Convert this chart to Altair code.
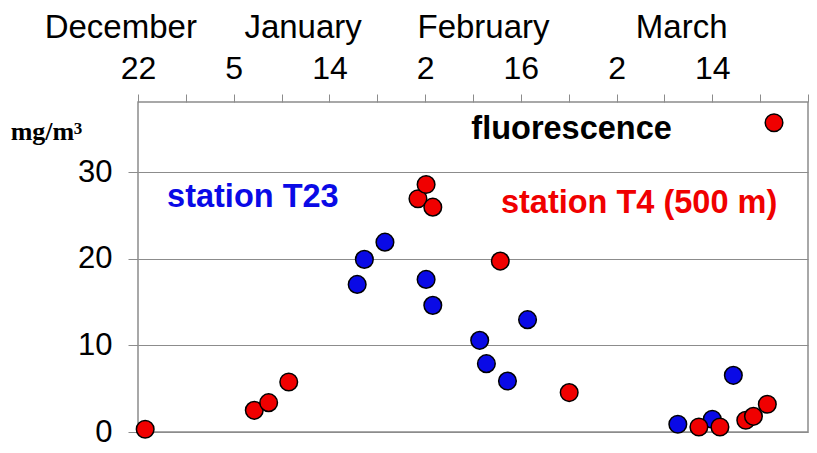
import altair as alt
import pandas as pd

# x positions are in axis-tick units (ticks are evenly spaced, 0..14)
date_labels = ["22", "5", "14", "2", "16", "2", "14"]   # at ticks 0,2,4,...,12
month_names = ["December", "January", "February", "March"]
month_pos = [-0.36, 3.45, 7.22, 11.36]

t23_x = [4.58, 4.73, 5.16, 6.02, 6.16, 7.14, 7.28, 7.72, 8.14, 11.28, 12.0, 12.44]
t23_y = [17.04, 19.93, 21.92, 17.62, 14.62, 10.58, 7.89, 5.88, 12.97, 0.89, 1.47, 6.54]

t4_x = [0.15, 2.43, 2.73, 3.15, 5.85, 6.02, 6.16, 7.57, 9.01, 11.72, 12.16, 12.7, 12.86, 13.15, 13.29]
t4_y = [0.31, 2.5, 3.39, 5.77, 26.93, 28.58, 25.96, 19.73, 4.55, 0.58, 0.58, 1.35, 1.81, 3.2, 35.7]

ann_text = ["fluorescence", "station T23", "station T4 (500 m)"]
ann_x = [9.06, 2.40, 10.47]
ann_y = [33.8, 25.95, 25.26]
ann_color = ["#000000", "#0a0ae6", "#f00000"]

unit_text = ["mg/m", "3"]
unit_x = [-2.66, -1.34]
unit_y = [33.74, 34.45]
unit_size = [26, 17]

BLUE = "#0a0ae6"
RED = "#f00000"
GRAY = "#8c8c8c"
FONT = "Liberation Sans"

label_expr = " : ".join(
    f"datum.value == {2*i} ? '{lab}'" for i, lab in enumerate(date_labels)
) + " : ''"

xscale = alt.Scale(domain=[0, 14], nice=False, zero=False)
yscale = alt.Scale(domain=[0, 38.1], nice=False, zero=False)

xaxis = alt.Axis(orient="top", values=list(range(15)), labelExpr=label_expr,
                 tickSize=8, tickColor=GRAY, tickWidth=1, domain=False, grid=False,
                 labelFont=FONT, labelFontSize=32, labelColor="black",
                 labelBaseline="alphabetic", labelPadding=16, labelFlush=False,
                 labelOverlap=False, title=None)
yaxis = alt.Axis(values=[0, 10, 20, 30], tickSize=10, tickColor=GRAY, tickWidth=1,
                 domain=False, grid=True, gridColor=GRAY, gridWidth=1,
                 labelFont=FONT, labelFontSize=31, labelColor="black",
                 labelPadding=16, title=None)

df23 = pd.DataFrame({"x": t23_x, "y": t23_y})
df4 = pd.DataFrame({"x": t4_x, "y": t4_y})

blue = alt.Chart(df23).mark_point(filled=True, shape="circle", size=310, color=BLUE,
                                   stroke="black", strokeWidth=1.5, opacity=1).encode(
    x=alt.X("x:Q", scale=xscale, axis=xaxis),
    y=alt.Y("y:Q", scale=yscale, axis=yaxis),
)
red = alt.Chart(df4).mark_point(filled=True, shape="circle", size=310, color=RED,
                                 stroke="black", strokeWidth=1.5, opacity=1).encode(
    x=alt.X("x:Q", scale=xscale),
    y=alt.Y("y:Q", scale=yscale),
)

ann = alt.Chart(pd.DataFrame({"x": ann_x, "y": ann_y, "t": ann_text, "c": ann_color})).mark_text(
    font=FONT, fontSize=32.5, fontWeight="bold", align="center", baseline="alphabetic"
).encode(
    x=alt.X("x:Q", scale=xscale),
    y=alt.Y("y:Q", scale=yscale),
    text="t:N",
    color=alt.Color("c:N", scale=None),
)

months = alt.Chart(pd.DataFrame({"x": month_pos, "y": [45.54] * 4, "t": month_names})).mark_text(
    font=FONT, fontSize=33, align="center", baseline="alphabetic", color="black"
).encode(
    x=alt.X("x:Q", scale=xscale),
    y=alt.Y("y:Q", scale=yscale),
    text="t:N",
)

unit = alt.Chart(pd.DataFrame({"x": unit_x, "y": unit_y, "t": unit_text, "s": unit_size})).mark_text(
    font="Liberation Serif", fontWeight="bold", align="left",
    baseline="alphabetic", color="black"
).encode(
    x=alt.X("x:Q", scale=xscale),
    y=alt.Y("y:Q", scale=yscale),
    text="t:N",
    size=alt.Size("s:Q", scale=None),
)

chart = alt.layer(blue, red, ann, months, unit).properties(
    width=670, height=330,
    autosize=alt.AutoSizeParams(type="none"),
    padding={"left": 130, "top": 94, "right": 1, "bottom": 12},
    background="white",
).configure_view(stroke=GRAY, strokeWidth=1.5)

chart.save("out.html", embed_options={"renderer": "svg", "actions": False})
